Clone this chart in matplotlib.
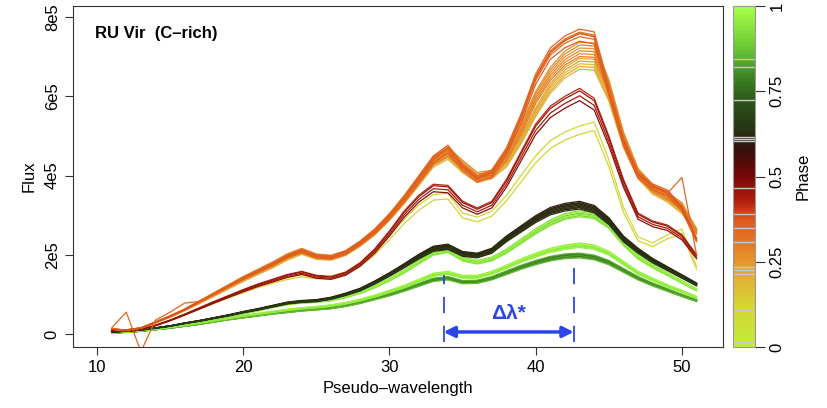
import numpy as np
import matplotlib
matplotlib.use("Agg")
import matplotlib.pyplot as plt
from matplotlib.colors import LinearSegmentedColormap, Normalize
from matplotlib.cm import ScalarMappable

plt.rcParams['font.family'] = ['Liberation Sans', 'DejaVu Sans']

# pseudo-wavelength grid
wave = np.arange(11, 52)

# flux profiles (units of 1e5)
orange_hi = [0.12, 0.10, 0.15, 0.30, 0.45, 0.62, 0.82, 1.02, 1.22, 1.42,
             1.60, 1.78, 1.98, 2.12, 1.98, 1.95, 2.08, 2.32, 2.62, 3.00,
             3.45, 3.95, 4.45, 4.72, 4.25, 3.95, 4.10, 4.65, 5.50, 6.50,
             7.15, 7.45, 7.62, 7.55, 6.20, 4.90, 4.05, 3.75, 3.60, 3.20, 2.40]
orange_mid = [0.12, 0.10, 0.15, 0.30, 0.45, 0.62, 0.82, 1.02, 1.22, 1.42,
              1.60, 1.78, 1.98, 2.12, 1.98, 1.95, 2.06, 2.30, 2.60, 2.98,
              3.42, 3.90, 4.40, 4.62, 4.30, 4.00, 4.05, 4.50, 5.20, 6.00,
              6.60, 7.00, 7.22, 7.20, 6.30, 5.00, 4.10, 3.70, 3.50, 3.25, 2.60]
orange_lo = [0.12, 0.10, 0.15, 0.28, 0.43, 0.60, 0.78, 0.97, 1.16, 1.35,
             1.53, 1.70, 1.90, 2.05, 1.92, 1.90, 2.02, 2.26, 2.55, 2.92,
             3.35, 3.82, 4.30, 4.50, 4.15, 3.90, 4.00, 4.30, 4.90, 5.60,
             6.20, 6.60, 6.82, 6.80, 6.00, 4.80, 4.00, 3.60, 3.40, 3.10, 2.60]
orange_spike = [0.15, 0.55, -0.45, 0.35, 0.55, 0.78, 0.82, 1.02, 1.22, 1.42,
                1.60, 1.78, 1.98, 2.12, 1.98, 1.95, 2.08, 2.32, 2.62, 3.00,
                3.45, 3.95, 4.45, 4.70, 4.25, 3.95, 4.10, 4.65, 5.50, 6.45,
                7.10, 7.40, 7.60, 7.50, 6.20, 4.80, 4.00, 3.70, 3.55, 3.95, 2.00]
dark_red = [0.10, 0.08, 0.12, 0.22, 0.35, 0.50, 0.66, 0.82, 0.97, 1.12,
            1.26, 1.38, 1.50, 1.58, 1.48, 1.45, 1.56, 1.80, 2.15, 2.60,
            3.10, 3.50, 3.78, 3.75, 3.35, 3.18, 3.35, 3.90, 4.60, 5.30,
            5.75, 6.00, 6.20, 5.95, 5.00, 3.90, 3.05, 2.85, 2.75, 2.50, 2.00]
yellow = [0.10, 0.08, 0.12, 0.22, 0.35, 0.50, 0.65, 0.80, 0.95, 1.08,
          1.22, 1.33, 1.43, 1.50, 1.45, 1.46, 1.56, 1.78, 2.08, 2.48,
          2.90, 3.25, 3.52, 3.55, 3.05, 2.95, 3.10, 3.50, 4.00, 4.50,
          4.88, 5.10, 5.25, 5.35, 4.40, 3.20, 2.45, 2.30, 2.50, 2.65, 1.70]
black = [0.05, 0.07, 0.10, 0.15, 0.20, 0.27, 0.33, 0.40, 0.47, 0.55,
         0.62, 0.70, 0.78, 0.82, 0.84, 0.90, 1.00, 1.12, 1.30, 1.50,
         1.72, 1.95, 2.15, 2.20, 2.02, 1.98, 2.10, 2.40, 2.65, 2.90,
         3.10, 3.20, 3.25, 3.15, 2.85, 2.40, 2.10, 1.85, 1.65, 1.45, 1.25]
lime_up = [0.04, 0.06, 0.09, 0.14, 0.19, 0.25, 0.31, 0.38, 0.45, 0.52,
           0.60, 0.68, 0.76, 0.80, 0.82, 0.86, 0.94, 1.05, 1.20, 1.38,
           1.58, 1.82, 2.05, 2.12, 1.90, 1.82, 1.90, 2.10, 2.35, 2.60,
           2.82, 2.98, 3.05, 3.00, 2.75, 2.30, 1.95, 1.72, 1.52, 1.32, 1.12]
lime_low = [0.03, 0.05, 0.08, 0.12, 0.17, 0.22, 0.28, 0.34, 0.40, 0.46,
            0.51, 0.56, 0.61, 0.65, 0.68, 0.72, 0.78, 0.86, 0.96, 1.08,
            1.20, 1.35, 1.50, 1.55, 1.45, 1.45, 1.55, 1.70, 1.86, 2.00,
            2.12, 2.20, 2.25, 2.20, 2.05, 1.80, 1.55, 1.38, 1.22, 1.08, 0.93]
green_low = [0.03, 0.04, 0.07, 0.11, 0.15, 0.20, 0.25, 0.31, 0.37, 0.42,
             0.47, 0.52, 0.56, 0.60, 0.63, 0.66, 0.72, 0.80, 0.90, 1.00,
             1.12, 1.25, 1.38, 1.42, 1.32, 1.33, 1.42, 1.56, 1.70, 1.82,
             1.92, 1.98, 2.00, 1.95, 1.82, 1.62, 1.42, 1.26, 1.12, 0.98, 0.85]

# phases and scale factors of the individual spectra in each group
green_low_phase = [0.74, 0.76, 0.78, 0.80, 0.82, 0.84, 0.86]
green_low_scale = [1.00, 0.98, 1.01, 0.97, 0.99, 1.02, 0.96]
lime_low_phase = [0.93, 0.95, 0.97, 0.99, 0.97, 0.95]
lime_low_scale = [1.00, 1.02, 0.98, 1.01, 0.97, 0.99]
lime_up_phase = [0.88, 0.90, 0.92, 0.94, 0.96, 0.98]
lime_up_scale = [1.00, 0.98, 1.02, 0.97, 0.99, 1.01]
black_phase = [0.55, 0.56, 0.57, 0.58, 0.59, 0.60, 0.62, 0.63, 0.64, 0.66]
black_scale = [1.00, 1.02, 0.98, 1.01, 0.99, 1.03, 0.97, 1.00, 1.015, 0.985]
yellow_phase = [0.10, 0.12]
yellow_scale = [1.00, 0.96]
dark_red_phase = [0.42, 0.44, 0.46, 0.48]
dark_red_scale = [1.00, 0.97, 0.99, 0.95]
orange_lo_phase = [0.19, 0.20, 0.215, 0.225, 0.235]
orange_lo_scale = [1.00, 0.98, 1.02, 0.99, 1.01]
orange_mid_phase = [0.25, 0.26, 0.27, 0.28, 0.29, 0.30]
orange_mid_scale = [1.00, 1.02, 0.98, 1.01, 0.99, 0.97]
orange_hi_phase = [0.31, 0.33, 0.34, 0.36, 0.38]
orange_hi_scale = [1.00, 0.985, 1.01, 0.97, 0.995]
orange_spike_phase = [0.35]
orange_spike_scale = [1.00]

# phases marked by grey lines in the colour bar
obs_phase = [0.015, 0.108, 0.215, 0.225, 0.235, 0.308, 0.349, 0.39,
             0.465, 0.605, 0.61, 0.615, 0.723, 0.821, 0.846]

# delta-lambda markers
dl_left, dl_right = 33.7, 42.6

# phase colour map
cstops = [0.0, 0.12, 0.22, 0.30, 0.37, 0.43, 0.50, 0.58, 0.64, 0.72, 0.80, 0.88, 1.0]
ccolors = ['#c0ec3c', '#d6d436', '#e2a830', '#e67a26', '#e05a1e', '#b01c0e',
           '#780808', '#34100a', '#263414', '#2c5418', '#3e8a22', '#6cc834',
           '#a8ff48']
cmap = LinearSegmentedColormap.from_list('phase', list(zip(cstops, ccolors)))

fig = plt.figure(figsize=(8.27, 4.08), dpi=100)
ax = fig.add_axes([0.0883, 0.1495, 0.7858, 0.8358])

groups = [(green_low, green_low_phase, green_low_scale),
          (lime_low, lime_low_phase, lime_low_scale),
          (lime_up, lime_up_phase, lime_up_scale),
          (black, black_phase, black_scale),
          (yellow, yellow_phase, yellow_scale),
          (dark_red, dark_red_phase, dark_red_scale),
          (orange_lo, orange_lo_phase, orange_lo_scale),
          (orange_mid, orange_mid_phase, orange_mid_scale),
          (orange_hi, orange_hi_phase, orange_hi_scale),
          (orange_spike, orange_spike_phase, orange_spike_scale)]

for prof, phases, scales in groups:
    for ph, sc in zip(phases, scales):
        ax.plot(wave, np.array(prof) * sc * 1e5, color=cmap(ph), lw=0.9)

# delta-lambda annotation
blue = '#2a46e6'
ax.plot([dl_left, dl_left], [-0.2e5, 1.5e5], color=blue, lw=1.3, dashes=(9, 7))
ax.plot([dl_right, dl_right], [-0.2e5, 1.95e5], color=blue, lw=1.3, dashes=(9, 7))
ax.annotate('', xy=(dl_left, 0.05e5), xytext=(dl_right, 0.05e5),
            arrowprops=dict(arrowstyle='<|-|>', color=blue, lw=2.5,
                            mutation_scale=16, shrinkA=0, shrinkB=0))
ax.text((dl_left + dl_right) / 2, 0.52e5, 'Δλ*', color=blue, fontsize=15,
        fontweight='bold', ha='center', va='center')

ax.text(0.034, 0.918, 'RU Vir  (C\u2013rich)', transform=ax.transAxes,
        fontsize=12, fontweight='bold', ha='left', va='center')

ax.set_xlim(8.36, 52.8)
ax.set_ylim(-0.33e5, 8.28e5)
ax.set_xticks([10, 20, 30, 40, 50])
ax.set_yticks([0, 2e5, 4e5, 6e5, 8e5])
ax.set_yticklabels(['0', '2e5', '4e5', '6e5', '8e5'], rotation=90, va='center')
ax.tick_params(labelsize=12, length=6, color='#333333')
ax.set_xlabel('Pseudo\u2013wavelength', fontsize=12, labelpad=4)
ax.set_ylabel('Flux', fontsize=12, labelpad=6)
for s in ax.spines.values():
    s.set_color('#333333')

# colour bar
cax = fig.add_axes([0.8864, 0.1495, 0.0266, 0.8358])
cb = fig.colorbar(ScalarMappable(norm=Normalize(0, 1), cmap=cmap), cax=cax)
for ph in obs_phase:
    cax.axhline(ph, color='#c8c8c8', lw=1.0)
cb.set_ticks([0, 0.25, 0.5, 0.75, 1])
cb.set_ticklabels(['0', '0.25', '0.5', '0.75', '1'])
cax.tick_params(labelsize=12, length=7, color='#333333')
for lab in cax.get_yticklabels():
    lab.set_rotation(90)
    lab.set_va('center')
cb.outline.set_edgecolor('#999999')
cb.set_label('Phase', fontsize=12, labelpad=8)

fig.savefig('out.png', dpi=100)
